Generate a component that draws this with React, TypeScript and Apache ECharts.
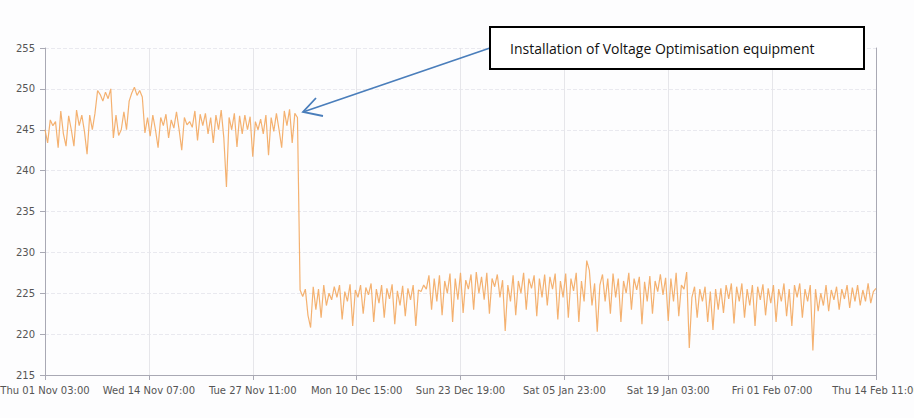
import React, { useEffect, useRef } from "react";
import * as echarts from "echarts";

// Readings every 8 hours starting Thu 01 Nov 2012 03:00
const STEP_HOURS = 8;
const X_INTERVAL_HOURS = 316;
const X_MAX_HOURS = 2528;

const xTickLabels = [
  "Thu 01 Nov 03:00",
  "Wed 14 Nov 07:00",
  "Tue 27 Nov 11:00",
  "Mon 10 Dec 15:00",
  "Sun 23 Dec 19:00",
  "Sat 05 Jan 23:00",
  "Sat 19 Jan 03:00",
  "Fri 01 Feb 07:00",
  "Thu 14 Feb 11:00",
];

const Y_MIN = 215;
const Y_MAX = 255;
const Y_INTERVAL = 5;

// Voltage before the optimisation equipment was installed
const preInstallVoltage = [
  245.0, 243.4, 246.2, 245.5, 246.0, 242.8, 247.3, 244.5, 243.0, 246.7,
  245.0, 243.0, 247.4, 245.5, 246.8, 244.8, 242.0, 246.8, 245.0, 247.0,
  249.8, 249.3, 248.5, 249.6, 248.8, 250.0, 244.0, 246.8, 244.3, 245.0,
  247.2, 245.0, 248.5, 249.5, 250.2, 249.2, 249.8, 249.0, 244.6, 246.5,
  244.2, 246.8, 245.0, 242.8, 246.5, 245.5, 246.9, 244.0, 246.2, 245.2,
  247.2, 245.0, 242.5, 246.5, 245.6, 246.0, 245.3, 247.3, 243.7, 246.9,
  245.5, 247.0, 244.5, 246.5, 243.4, 246.8, 245.0, 247.4, 244.0, 238.0,
  246.5, 245.0, 247.0, 242.9, 246.7, 244.5, 246.8, 245.0, 246.6, 241.7,
  246.0, 245.0, 246.3, 244.5, 246.8, 241.9, 246.5, 244.8, 247.0, 245.0,
  242.8, 247.3, 245.5, 247.5, 243.4, 247.0, 246.5,
];

// Voltage after installation
const postInstallVoltage = [
  225.4, 224.6, 225.5, 222.3, 220.8, 225.8, 223.0, 225.5, 222.0, 226.0,
  223.5, 225.0, 224.2, 225.8, 224.5, 226.0, 221.8, 225.2, 224.0, 226.1,
  221.0, 225.4, 224.5, 226.0, 222.5, 225.7, 224.8, 226.2, 221.5, 225.5,
  223.8, 226.0, 222.0, 225.6, 224.3, 226.1, 221.2, 225.3, 223.5, 225.9,
  222.2, 225.6, 224.2, 226.0, 221.0, 225.4, 225.2, 226.0, 225.5, 227.2,
  223.0, 226.8, 224.0, 227.2, 222.3, 226.5, 225.0, 227.4, 221.5, 226.8,
  224.2, 227.5, 222.6, 226.6, 225.5, 227.3, 223.0, 227.6, 225.0, 227.0,
  224.2, 227.5, 222.5, 226.8, 225.8, 227.3, 224.5, 226.6, 220.4, 226.0,
  224.0, 227.2, 222.3, 226.5, 225.0, 227.5, 223.0, 226.8, 225.6, 227.2,
  222.2, 226.8, 224.5, 227.3, 223.5, 227.0, 225.5, 227.4, 221.8, 226.5,
  224.5, 227.4, 222.0, 226.8, 225.3, 227.5, 221.5, 226.5, 224.0, 229.0,
  227.8, 223.5, 226.2, 220.3, 226.0, 227.3, 224.0, 226.8, 222.5, 227.4,
  224.5, 226.8, 221.5, 226.5, 225.0, 227.5, 223.0, 226.8, 225.4, 227.0,
  221.2, 226.4, 224.0, 227.1, 222.5, 226.5, 225.2, 227.3, 224.8, 226.9,
  221.6, 226.8, 224.0, 227.5, 222.2, 226.0, 225.5, 227.6, 218.3, 224.5,
  225.8, 222.0, 225.5, 224.0, 225.8, 221.5, 225.2, 220.5, 225.5, 223.0,
  225.6, 222.6, 226.0, 224.3, 226.2, 221.3, 225.8, 224.0, 226.2, 222.0,
  225.5, 223.5, 226.0, 221.0, 225.8, 224.2, 226.1, 222.3, 225.6, 223.8,
  226.0, 221.5, 225.5, 224.0, 226.2, 222.2, 225.5, 221.0, 226.0, 224.5,
  226.2, 222.0, 225.5, 224.0, 226.0, 218.0, 225.5, 222.8, 225.0, 223.5,
  226.0, 222.8, 225.4, 224.2, 225.8, 223.0, 225.5, 224.3, 226.0, 223.2,
  225.7, 224.0, 226.0, 223.5, 225.4, 224.0, 226.2, 223.8, 225.2, 225.6,
];

const annotationText = "Installation of Voltage Optimisation equipment";

export default function App() {
  const ref = useRef<HTMLDivElement>(null);

  useEffect(() => {
    if (!ref.current) return;
    const chart = echarts.init(ref.current, undefined, { renderer: "svg" });
    const values = [...preInstallVoltage, ...postInstallVoltage];
    const data = values.map((v, i) => [i * STEP_HOURS, v]);
    const axisColor = "#a9a9b4";
    const labelColor = "#555555";

    chart.setOption({
      animation: false,
      backgroundColor: "#fdfdfe",
      grid: {
        left: 45,
        right: 38,
        top: 48,
        bottom: 43,
        containLabel: false,
        outerBoundsMode: "none",
      },
      xAxis: {
        type: "value",
        min: 0,
        max: X_MAX_HOURS,
        interval: X_INTERVAL_HOURS,
        axisLine: { show: true, lineStyle: { color: axisColor, width: 1 } },
        axisTick: { show: true, length: 5, lineStyle: { color: axisColor } },
        axisLabel: {
          margin: 10,
          color: labelColor,
          fontFamily: "DejaVu Sans",
          fontSize: 10,
          showMinLabel: true,
          showMaxLabel: true,
          formatter: (v: number) => xTickLabels[Math.round(v / X_INTERVAL_HOURS)] ?? "",
        },
        splitLine: { show: true, lineStyle: { color: "#e6e6ea", width: 1 } },
      },
      yAxis: [
        {
          type: "value",
          min: Y_MIN,
          max: Y_MAX,
          interval: Y_INTERVAL,
          axisLine: { show: true, lineStyle: { color: axisColor, width: 1 } },
          axisTick: { show: true, length: 5, lineStyle: { color: axisColor } },
          axisLabel: {
            margin: 10,
            color: labelColor,
            fontFamily: "DejaVu Sans",
            fontSize: 10,
          },
          splitLine: {
            show: true,
            lineStyle: { color: "#e9e9ef", width: 1, type: "dashed" },
          },
        },
        {
          type: "value",
          position: "right",
          min: Y_MIN,
          max: Y_MAX,
          interval: Y_INTERVAL,
          axisLine: { show: true, lineStyle: { color: axisColor, width: 1 } },
          axisTick: { show: false },
          axisLabel: { show: false },
          splitLine: { show: false },
        },
      ],
      series: [
        {
          type: "line",
          data,
          yAxisIndex: 0,
          showSymbol: false,
          symbol: "none",
          lineStyle: { color: "#f3a860", width: 1.2, opacity: 0.9 },
        },
      ],
      graphic: [
        {
          type: "line",
          shape: { x1: 490, y1: 48, x2: 303, y2: 112 },
          style: { stroke: "#4a7ebb", lineWidth: 1.8 },
          z: 10,
        },
        {
          type: "polyline",
          shape: { points: [[316, 98], [303, 112], [323, 116]] },
          style: { stroke: "#4a7ebb", lineWidth: 1.8, fill: "none" },
          z: 10,
        },
        {
          type: "rect",
          shape: { x: 490, y: 27, width: 374, height: 42 },
          style: { fill: "#ffffff", stroke: "#000000", lineWidth: 2 },
          z: 11,
        },
        {
          type: "text",
          x: 510,
          y: 48,
          style: {
            text: annotationText,
            fill: "#111111",
            font: "14px 'Open Sans'",
            verticalAlign: "middle",
            align: "left",
          },
          z: 12,
        },
      ],
    });

    return () => chart.dispose();
  }, []);

  return (
    <div
      ref={ref}
      style={{ position: "fixed", left: 0, top: 0, width: 914, height: 418 }}
    />
  );
}
